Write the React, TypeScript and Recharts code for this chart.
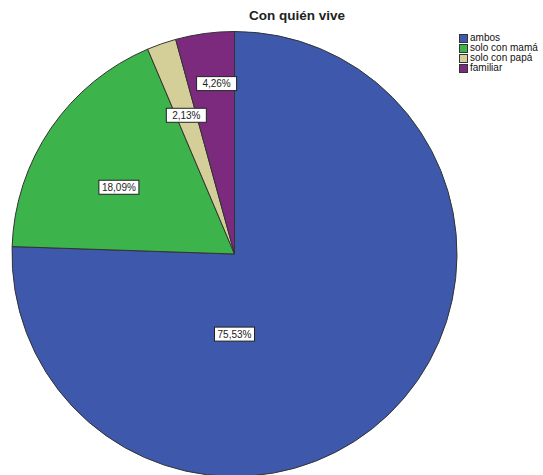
import { Cell, Pie, PieChart } from "recharts";

const CATEGORIES = ["ambos", "solo con mamá", "solo con papá", "familiar"];
const COUNTS = [71, 17, 2, 4];
const COLORS = ["#3e58ac", "#3cb34b", "#d4cf98", "#7b2a7d"];

// where each percentage box sits, as a fraction of the radius (and angle override in degrees)
const LABEL_PLACEMENT: { r: number; angle?: number }[] = [
  { r: 0.36, angle: -90 },
  { r: 0.6, angle: 150 },
  { r: 0.66 },
  { r: 0.77, angle: 96 },
];

const data = CATEGORIES.map((name, i) => ({ name, value: COUNTS[i], color: COLORS[i] }));
const total = COUNTS.reduce((a, b) => a + b, 0);

const FONT = "'Liberation Sans', Arial, sans-serif";
const RADIAN = Math.PI / 180;

const renderLabel = (props: any) => {
  const { cx, cy, midAngle, outerRadius, index, value } = props;
  const place = LABEL_PLACEMENT[index];
  const angle = place.angle ?? midAngle;
  const r = outerRadius * place.r;
  const x = cx + r * Math.cos(-angle * RADIAN);
  const y = cy + r * Math.sin(-angle * RADIAN);
  const text = ((value / total) * 100).toFixed(2).replace(".", ",") + "%";
  const w = 40;
  const h = 14;
  return (
    <g>
      <rect x={x - w / 2} y={y - h / 2} width={w} height={h} fill="#fff" stroke="#222" strokeWidth={1} />
      <text x={x} y={y + 3.6} textAnchor="middle" fontSize={10} fontFamily={FONT} fill="#222">
        {text}
      </text>
    </g>
  );
};

const ChartLegend = () => (
  <div
    style={{
      position: "absolute",
      left: 459,
      top: 33,
      fontFamily: FONT,
      fontSize: 10,
      color: "#111",
      lineHeight: "10px",
    }}
  >
    {data.map((d) => (
      <div key={d.name} style={{ display: "flex", alignItems: "center", height: 10 }}>
        <span
          style={{
            display: "inline-block",
            width: 7,
            height: 7,
            background: d.color,
            border: "1px solid #333",
            marginRight: 2,
          }}
        />
        {d.name}
      </div>
    ))}
  </div>
);

export default function App() {
  return (
    <div style={{ position: "absolute", left: 0, top: 0, width: 543, height: 475, background: "#fff", overflow: "hidden" }}>
      <PieChart width={543} height={475} margin={{ top: 0, right: 0, bottom: 0, left: 0 }}>
        <Pie
          data={data}
          dataKey="value"
          nameKey="name"
          cx={234.5}
          cy={254}
          outerRadius={222.5}
          startAngle={90}
          endAngle={-270}
          stroke="#333"
          strokeWidth={1}
          label={renderLabel}
          labelLine={false}
          isAnimationActive={false}
        >
          {data.map((d) => (
            <Cell key={d.name} fill={d.color} />
          ))}
        </Pie>
      </PieChart>
      <div
        style={{
          position: "absolute",
          left: 0,
          width: 594,
          top: 8,
          textAlign: "center",
          fontFamily: FONT,
          fontWeight: "bold",
          fontSize: 13.5,
          color: "#222",
        }}
      >
        Con quién vive
      </div>
      <ChartLegend />
    </div>
  );
}
